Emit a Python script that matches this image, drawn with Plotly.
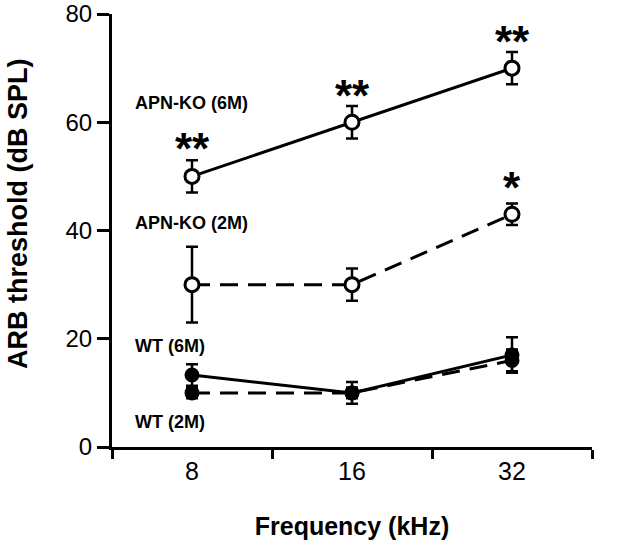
import plotly.graph_objects as go

freq = ["8", "16", "32"]
ko6_y = [50, 60, 70]
ko6_err = [3, 3, 3]
ko2_y = [30, 30, 43]
ko2_err = [7, 3, 2]
wt6_y = [13.3, 10, 17]
wt6_err = [2, 2, 3.3]
wt2_y = [10, 10, 16]
wt2_err = [1, 1, 2]

group_labels = ["APN-KO (6M)", "APN-KO (2M)", "WT (6M)", "WT (2M)"]
label_y = [63.6, 41.4, 18.6, 4.6]
star_text = ["**", "**", "**", "*"]
star_idx = [0, 1, 2, 2]
star_y = [55.2, 65.0, 74.9, 47.9]

FONT = "Liberation Sans, Arial, sans-serif"
fig = go.Figure()

def add(y, err, dash, filled):
    fig.add_trace(go.Scatter(
        x=freq, y=y, mode="lines+markers",
        line=dict(color="black", width=3, dash=dash),
        marker=dict(symbol="circle", size=14 if not filled else 12,
                    color="black" if filled else "white",
                    line=dict(color="black", width=3)),
        error_y=dict(type="data", array=err, visible=True, color="black",
                     thickness=2.5, width=6),
        showlegend=False, cliponaxis=False))

add(wt2_y, wt2_err, "18px,10px", True)
add(wt6_y, wt6_err, "solid", True)
add(ko2_y, ko2_err, "18px,10px", False)
add(ko6_y, ko6_err, "solid", False)

for t, yv in zip(group_labels, label_y):
    fig.add_annotation(x=0.044, xref="paper", y=yv, yref="y", text=t,
                       showarrow=False, xanchor="left", yanchor="middle",
                       font=dict(family=FONT, size=18, color="black", weight="bold"))

for t, xi, yv in zip(star_text, star_idx, star_y):
    fig.add_annotation(x=xi, y=yv, text=t, showarrow=False,
                       xanchor="center", yanchor="middle",
                       font=dict(family=FONT, size=44, color="black", weight="bold"))

fig.add_annotation(x=-0.196, xref="paper", y=0.54, yref="paper",
                   text="ARB threshold (dB SPL)", textangle=-90, showarrow=False,
                   xanchor="center", yanchor="middle",
                   font=dict(family=FONT, size=27, color="black", weight="bold"))

fig.update_layout(
    width=641, height=549,
    margin=dict(l=112, r=49, t=14, b=102, autoexpand=False),
    plot_bgcolor="white", paper_bgcolor="white",
    font=dict(family=FONT, color="black"),
    xaxis=dict(type="category", range=[-0.5, 2.5], tickson="boundaries",
               showline=True, linecolor="black", linewidth=3,
               ticks="outside", ticklen=9, tickwidth=3, tickcolor="black",
               showgrid=False, zeroline=False, automargin=False,
               tickfont=dict(size=25, family=FONT),
               title=dict(text="<b>Frequency (kHz)</b>", font=dict(size=25, family=FONT), standoff=34)),
    yaxis=dict(range=[0, 80], tickvals=[0, 20, 40, 60, 80],
               showline=True, linecolor="black", linewidth=3,
               ticks="outside", ticklen=12, tickwidth=3, tickcolor="black",
               showgrid=False, zeroline=False, ticklabeloverflow="allow", automargin=False,
               ticksuffix="\u2009",
               tickfont=dict(size=24, family=FONT)),
)

fig.write_html("out.html", config={"displayModeBar": False},
               post_script="document.body.style.margin='0';document.body.style.overflow='hidden';")
